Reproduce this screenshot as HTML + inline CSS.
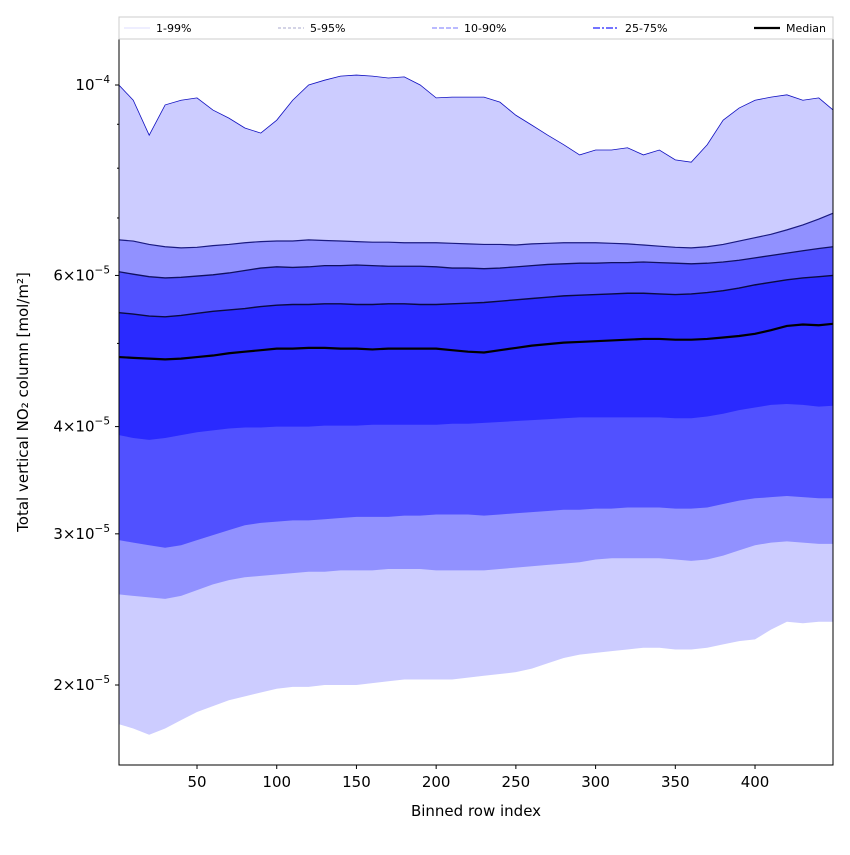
<!DOCTYPE html>
<html><head><meta charset="utf-8"><style>
body{margin:0;background:#fff}
svg text{font-family:"DejaVu Sans","Liberation Sans",sans-serif}
</style></head><body>
<svg id="c" width="850" height="850" xmlns="http://www.w3.org/2000/svg"></svg>
<script>
const xs=[1,10,20,30,40,50,60,70,80,90,100,110,120,130,140,150,160,170,180,190,200,210,220,230,240,250,260,270,280,290,300,310,320,330,340,350,360,370,380,390,400,410,420,430,440,449];
const p99=[10.0,9.60,8.74,9.48,9.60,9.66,9.35,9.15,8.91,8.79,9.10,9.60,10.0,10.13,10.24,10.27,10.24,10.19,10.22,10.0,9.66,9.68,9.68,9.68,9.55,9.22,8.98,8.74,8.52,8.29,8.40,8.40,8.45,8.29,8.40,8.18,8.13,8.52,9.10,9.40,9.60,9.68,9.74,9.60,9.66,9.35];
const p95=[6.60,6.58,6.52,6.48,6.46,6.47,6.50,6.52,6.55,6.57,6.58,6.58,6.60,6.59,6.58,6.57,6.56,6.56,6.55,6.55,6.55,6.54,6.53,6.52,6.52,6.51,6.53,6.54,6.55,6.55,6.55,6.54,6.53,6.51,6.49,6.47,6.46,6.48,6.52,6.58,6.64,6.70,6.78,6.87,6.98,7.09];
const p90=[6.06,6.02,5.98,5.96,5.97,5.99,6.01,6.04,6.08,6.12,6.14,6.13,6.14,6.16,6.16,6.17,6.16,6.15,6.15,6.15,6.14,6.12,6.12,6.11,6.12,6.14,6.16,6.18,6.19,6.20,6.20,6.21,6.21,6.22,6.21,6.20,6.19,6.20,6.22,6.25,6.29,6.33,6.37,6.41,6.45,6.48];
const p75=[5.43,5.41,5.38,5.37,5.39,5.42,5.45,5.47,5.49,5.52,5.54,5.55,5.55,5.56,5.56,5.55,5.55,5.56,5.56,5.55,5.55,5.56,5.57,5.58,5.60,5.62,5.64,5.66,5.68,5.69,5.70,5.71,5.72,5.72,5.71,5.70,5.71,5.73,5.76,5.80,5.85,5.89,5.93,5.96,5.98,6.00];
const p50=[4.82,4.81,4.80,4.79,4.80,4.82,4.84,4.87,4.89,4.91,4.93,4.93,4.94,4.94,4.93,4.93,4.92,4.93,4.93,4.93,4.93,4.91,4.89,4.88,4.91,4.94,4.97,4.99,5.01,5.02,5.03,5.04,5.05,5.06,5.06,5.05,5.05,5.06,5.08,5.10,5.13,5.18,5.24,5.26,5.25,5.27];
const p25=[3.91,3.88,3.86,3.88,3.91,3.94,3.96,3.98,3.99,3.99,4.00,4.00,4.00,4.01,4.01,4.01,4.02,4.02,4.02,4.02,4.02,4.03,4.03,4.04,4.05,4.06,4.07,4.08,4.09,4.10,4.10,4.10,4.10,4.10,4.10,4.09,4.09,4.11,4.14,4.18,4.21,4.24,4.25,4.24,4.22,4.23];
const p10=[2.95,2.93,2.91,2.89,2.91,2.95,2.99,3.03,3.07,3.09,3.10,3.11,3.11,3.12,3.13,3.14,3.14,3.14,3.15,3.15,3.16,3.16,3.16,3.15,3.16,3.17,3.18,3.19,3.20,3.20,3.21,3.21,3.22,3.22,3.22,3.21,3.21,3.22,3.25,3.28,3.30,3.31,3.32,3.31,3.30,3.30];
const p5=[2.55,2.54,2.53,2.52,2.54,2.58,2.62,2.65,2.67,2.68,2.69,2.70,2.71,2.71,2.72,2.72,2.72,2.73,2.73,2.73,2.72,2.72,2.72,2.72,2.73,2.74,2.75,2.76,2.77,2.78,2.80,2.81,2.81,2.81,2.81,2.80,2.79,2.80,2.83,2.87,2.91,2.93,2.94,2.93,2.92,2.92];
const p1=[1.80,1.78,1.75,1.78,1.82,1.86,1.89,1.92,1.94,1.96,1.98,1.99,1.99,2.00,2.00,2.00,2.01,2.02,2.03,2.03,2.03,2.03,2.04,2.05,2.06,2.07,2.09,2.12,2.15,2.17,2.18,2.19,2.20,2.21,2.21,2.20,2.20,2.21,2.23,2.25,2.26,2.32,2.37,2.36,2.37,2.37];
const yTickVals=[2,3,4,6,10];
const yTickLabels=[["2","−5"],["3","−5"],["4","−5"],["6","−5"],["","−4"]];
const yMinor=[5,7,8,9];
const xTicks=[50,100,150,200,250,300,350,400];

const NS="http://www.w3.org/2000/svg";
const svg=document.getElementById('c');
const L=119,R=833,T=39,B=765;
const X=v=>117.3+(v)*1.5943;
const Y=v=>85-Math.log10(v/10)*858.4;
function mk(t,a,p){const e=document.createElementNS(NS,t);for(const k in a)e.setAttribute(k,a[k]);(p||svg).appendChild(e);return e;}
const clip=mk('clipPath',{id:'pc'});mk('rect',{x:L,y:T,width:R-L,height:B-T},clip);
const g=mk('g',{'clip-path':'url(#pc)'});
function band(lo,hi,fill,name){
  let d='M'+xs.map((x,i)=>X(x)+','+Y(hi[i])).join('L');
  for(let i=xs.length-1;i>=0;i--)d+='L'+X(xs[i])+','+Y(lo[i]);
  const e=mk('path',{d:d+'Z',fill:fill},g);
  
  
}
function line(arr,stroke,w,name){
  const e=mk('path',{d:'M'+xs.map((x,i)=>X(x)+','+Y(arr[i])).join('L'),fill:'none',stroke:stroke,'stroke-width':w},g);
  
  
}
band(p1,p99,'#ccccff','band-1-99');
band(p5,p95,'#9191ff','band-5-95');
band(p10,p90,'#5151ff','band-10-90');
band(p25,p75,'#2a2aff','band-25-75');
line(p99,'#1010c0',0.8,'line-p99');
line(p95,'#1a1a80',1.2,'line-p95');
line(p90,'#101060',1.3,'line-p90');
line(p75,'#0a0a40',1.4,'line-p75');
line(p50,'#000',2.2,'line-median');
mk('rect',{x:L,y:T,width:R-L,height:B-T,fill:'none',stroke:'#000','stroke-width':1});
yTickVals.forEach((v,i)=>{
  const y=Y(v);
  mk('line',{x1:L-4,x2:L,y1:y,y2:y,stroke:'#000'});
  const t=mk('text',{x:L-9,y:y+5,'text-anchor':'end','font-size':15});
  
  
  const lab=yTickLabels[i];
  t.textContent=(lab[0]?lab[0]+'×':'')+'10';
  mk('tspan',{dy:-7,'font-size':10.5},t).textContent=lab[1];
});
yMinor.forEach(v=>{const y=Y(v);mk('line',{x1:L-2,x2:L,y1:y,y2:y,stroke:'#000'});});
xTicks.forEach(v=>{
  const x=X(v);
  mk('line',{x1:x,x2:x,y1:B,y2:B+4,stroke:'#000'});
  const t=mk('text',{x:x,y:B+22,'text-anchor':'middle','font-size':15});
  
  
  t.textContent=v;
});
const xl=mk('text',{x:476,y:816,'text-anchor':'middle','font-size':15});


xl.textContent='Binned row index';
const yl=mk('text',{x:0,y:0,'text-anchor':'middle','font-size':15,transform:'translate(28,402) rotate(-90)'});


yl.textContent='Total vertical NO₂ column [mol/m²]';
const lg=mk('g',{});


mk('rect',{x:119,y:17,width:714,height:22,fill:'#fff',stroke:'#ccc'},lg);
const ents=[[124,'1-99%','#ddddff','',1],[278,'5-95%','#aaaacc','3,2',1],[432,'10-90%','#9090ff','5,2',1.3],[593,'25-75%','#6060ff','7,2,2,2',1.8],[754,'Median','#000','',2.2]];
ents.forEach(e=>{
  const gg=mk('g',{},lg);
  
  
  mk('line',{x1:e[0],x2:e[0]+26,y1:28,y2:28,stroke:e[2],'stroke-width':e[4],'stroke-dasharray':e[3]},gg);
  mk('text',{x:e[0]+32,y:32,'font-size':11},gg).textContent=e[1];
});
</script>
</body></html>
